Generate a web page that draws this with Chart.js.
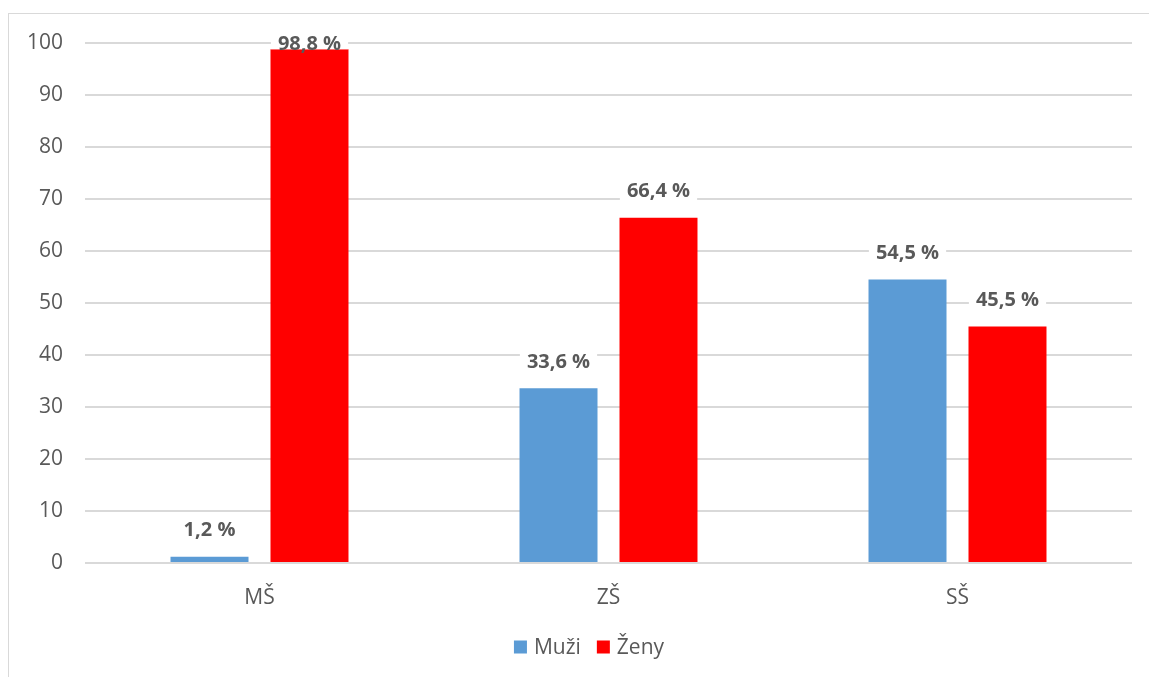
<!DOCTYPE html>
<html>
<head>
<meta charset="utf-8">
<script src="https://cdn.jsdelivr.net/npm/chart.js@4"></script>
<style>
  html, body { margin: 0; padding: 0; background: #ffffff; }
  #wrap { width: 1149px; height: 677px; position: relative; }
</style>
</head>
<body>
<div id="wrap"><canvas id="c" width="1149" height="677"></canvas></div>
<script>
// Podíl mužů a žen podle stupně školy (%)
const categories = ['MŠ', 'ZŠ', 'SŠ'];
const seriesNames = ['Muži', 'Ženy'];
const muzi = [1.2, 33.6, 54.5];
const zeny = [98.8, 66.4, 45.5];
const yTicks = [0, 10, 20, 30, 40, 50, 60, 70, 80, 90, 100];

const TEXT = '#595959';
const FONT = "'Open Sans', 'Liberation Sans', sans-serif";

// Outer frame of the chart
const framePlugin = {
  id: 'frame',
  beforeDraw(chart) {
    const ctx = chart.ctx;
    ctx.save();
    ctx.strokeStyle = '#d9d9d9';
    ctx.lineWidth = 1;
    ctx.strokeRect(8.5, 13.5, chart.width + 10, chart.height + 10);
    ctx.restore();
  }
};

// Value labels above each bar; a white backing breaks the gridlines
const valueLabels = {
  id: 'valueLabels',
  afterDatasetsDraw(chart) {
    const ctx = chart.ctx;
    ctx.save();
    ctx.font = "bold 20px " + FONT;
    ctx.textAlign = 'center';
    ctx.textBaseline = 'middle';
    chart.data.datasets.forEach((ds, di) => {
      const meta = chart.getDatasetMeta(di);
      meta.data.forEach((bar, i) => {
        const txt = ds.data[i].toFixed(1).replace('.', ',') + ' %';
        let y = bar.y - 27;
        if (y < chart.chartArea.top) y = chart.chartArea.top;
        const w = ctx.measureText(txt).width + 14;
        const top = y - 11;
        const bottom = Math.min(y + 11, bar.y);
        ctx.fillStyle = '#ffffff';
        if (bottom > top) ctx.fillRect(bar.x - w / 2, top, w, bottom - top);
        ctx.fillStyle = TEXT;
        ctx.fillText(txt, bar.x, y + 1);
      });
    });
    ctx.restore();
  }
};

// Legend row under the category axis, centred within the frame
const legendRow = {
  id: 'legendRow',
  afterDraw(chart) {
    const ctx = chart.ctx;
    const box = 13, gap = 7, spacing = 16, cy = 647, cx = 589;
    ctx.save();
    ctx.font = "21px " + FONT;
    ctx.textBaseline = 'middle';
    ctx.textAlign = 'left';
    const items = chart.data.datasets.map(ds => ({
      label: ds.label, color: ds.backgroundColor,
      w: box + gap + ctx.measureText(ds.label).width
    }));
    const total = items.reduce((s, it) => s + it.w, 0) + spacing * (items.length - 1);
    let x = cx - total / 2;
    items.forEach(it => {
      ctx.fillStyle = it.color;
      ctx.fillRect(x, cy - box / 2, box, box);
      ctx.fillStyle = TEXT;
      ctx.fillText(it.label, x + box + gap, cy + 1);
      x += it.w + spacing;
    });
    ctx.restore();
  }
};

new Chart(document.getElementById('c'), {
  type: 'bar',
  data: {
    labels: categories,
    datasets: [
      { label: seriesNames[0], data: muzi, backgroundColor: '#5b9bd5' },
      { label: seriesNames[1], data: zeny, backgroundColor: '#ff0000' }
    ]
  },
  options: {
    responsive: false,
    animation: false,
    devicePixelRatio: 1,
    layout: { padding: { left: 8, right: 17, top: 43, bottom: 0 } },
    datasets: { bar: { categoryPercentage: 0.573, barPercentage: 0.78 } },
    plugins: {
      legend: { display: false },
      tooltip: { enabled: false }
    },
    scales: {
      x: {
        grid: { display: false, drawTicks: false },
        border: { display: false },
        ticks: { color: TEXT, font: { family: FONT, size: 21 }, padding: 22 },
        afterFit(s) { s.height = 114; }
      },
      y: {
        min: 0, max: 100,
        afterBuildTicks(s) { s.ticks = yTicks.map(v => ({ value: v })); },
        grid: { color: '#d9d9d9', lineWidth: 2, drawTicks: false },
        border: { display: false },
        ticks: { color: TEXT, font: { family: FONT, size: 21 }, padding: 22 },
        afterFit(s) { s.width = 77; }
      }
    }
  },
  plugins: [framePlugin, valueLabels, legendRow]
});
</script>
</body>
</html>
